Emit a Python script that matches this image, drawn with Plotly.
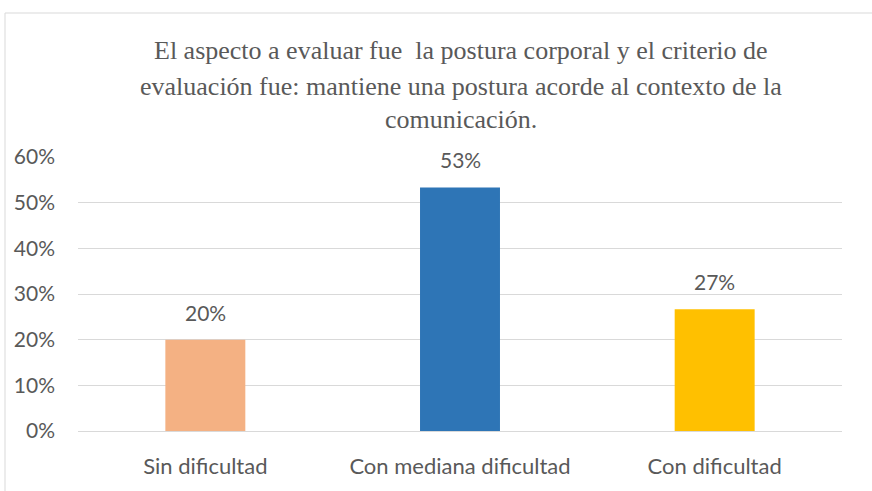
import plotly.graph_objects as go

categories = ["Sin dificultad", "Con mediana dificultad", "Con dificultad"]
values = [20.0, 53.33, 26.67]
labels = ["20%", "53%", "27%"]
colors = ["#F4B183", "#2E75B6", "#FFC000"]
title_lines = [
    "El aspecto a evaluar fue  la postura corporal y el criterio de",
    "evaluación fue: mantiene una postura acorde al contexto de la",
    "comunicación.",
]
yticks = [0, 10, 20, 30, 40, 50, 60]
yticklabels = ["0%", "10%", "20%", "30%", "40%", "50%", "60%"]

W, H = 872, 491
L, R, T, B = 78, 30, 157, 60
pw, ph = W - L - R, H - T - B

fig = go.Figure(go.Bar(
    x=categories, y=values, marker_color=colors, marker_line_width=0,
    hoverinfo="skip",
))

fig.update_layout(
    width=W, height=H, margin=dict(l=L, r=R, t=T, b=B),
    paper_bgcolor="white", plot_bgcolor="white",
    bargap=0.686, showlegend=False,
    font=dict(family="Lato, Open Sans, sans-serif", color="#595959", size=21),
)
fig.update_yaxes(range=[0, 60], tickvals=yticks, ticktext=yticklabels,
                 showgrid=True, gridcolor="#D9D9D9", gridwidth=1,
                 zeroline=False, showline=False, ticks="", ticklabelstandoff=22,
                 tickfont=dict(size=21, color="#595959"))
fig.update_xaxes(showgrid=False, showline=True, linecolor="#D9D9D9", linewidth=1,
                 ticks="", ticklabelstandoff=16,
                 tickfont=dict(size=22, color="#595959"))

for c, v, t in zip(categories, values, labels):
    fig.add_annotation(x=c, y=v, text=t, showarrow=False, yanchor="bottom",
                       yshift=13, font=dict(size=21, color="#595959"))

title_y = [50, 86, 119]
for line, py in zip(title_lines, title_y):
    fig.add_annotation(xref="paper", yref="paper", x=(461 - L) / pw,
                       y=(H - B - py) / ph, text=line, showarrow=False,
                       xanchor="center", yanchor="middle",
                       font=dict(family="Liberation Serif, Times New Roman, serif",
                                 size=26, color="#595959"))

# chart border (clipped by the window on right and bottom)
fig.add_shape(type="rect", xref="paper", yref="paper",
              x0=(5 - L) / pw, x1=(W + 20 - L) / pw,
              y0=-(B + 20) / ph, y1=(H - B - 13) / ph,
              line=dict(color="#D9D9D9", width=1), fillcolor="rgba(0,0,0,0)",
              layer="below")

fig.write_html("out.html", config={"displayModeBar": False},
               post_script="document.body.style.margin='0';document.body.style.overflow='hidden';")
